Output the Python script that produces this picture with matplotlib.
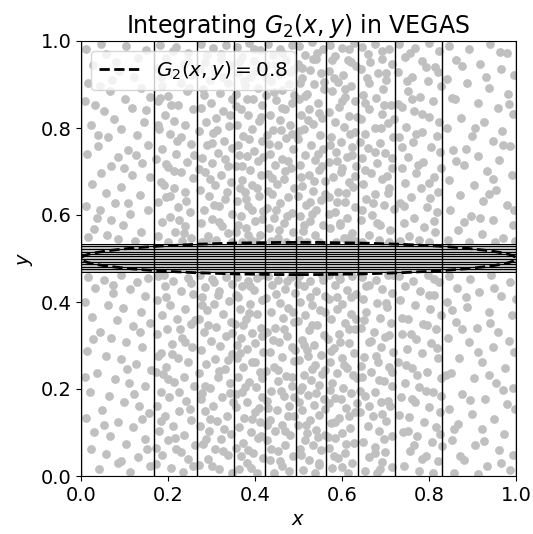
import matplotlib
matplotlib.use("Agg")
import matplotlib.pyplot as plt
from matplotlib.patches import Ellipse
from matplotlib.lines import Line2D

# ---------------- data ----------------
# VEGAS grid edges
x_grid = [0.0, 0.168, 0.266, 0.351, 0.422, 0.494, 0.564, 0.636, 0.722, 0.830, 1.0]
y_grid = [0.0, 0.469, 0.475, 0.481, 0.487, 0.493, 0.499, 0.505, 0.511,
          0.516, 0.522, 0.528, 0.534, 1.0]
# densely sampled band around y = 0.5
band_lo, band_hi = 0.467, 0.534
# contour G2(x, y) = 0.8 (ellipse: centre, full width, full height)
contour_center = (0.5, 0.5)
contour_width = 1.0
contour_height = 0.074
contour_label = r"$G_2(x,y) = 0.8$"

# sample points outside the band, (x, y) in thousandths
samples_upper = [
    (12,982),(47,993),(58,971),(103,988),(131,962),(149,979),(27,944),(81,951),(88,932),(122,917),
    (15,903),(44,896),(66,884),(138,893),(159,871),(101,866),(33,852),(52,839),(118,846),(76,821),
    (145,814),(22,806),(93,797),(61,779),(129,784),(155,762),(38,758),(14,741),(84,733),(108,749),
    (69,712),(140,719),(47,697),(117,691),(158,688),(25,672),(93,664),(57,651),(135,646),(78,628),
    (12,621),(43,611),(112,603),(153,612),(68,589),(96,577),(31,568),(139,561),(17,549),(84,545),
    (59,553),(124,541),(107,628),(40,783),(150,842),(9,862),(126,738),(72,911),(98,708),(37,592),
    (181,991),(219,986),(247,973),(196,962),(236,948),(174,939),(208,927),(255,921),(229,904),(187,897),
    (243,884),(201,873),(176,861),(224,852),(258,843),(193,831),(213,817),(240,808),(179,797),(205,786),
    (231,779),(252,763),(187,752),(218,741),(173,729),(244,722),(201,711),(229,698),(257,684),(183,676),
    (214,662),(238,653),(196,641),(176,629),(223,618),(251,607),(205,596),(186,583),(239,574),(217,561),
    (178,552),(254,547),(199,538),(232,541),(212,977),(185,918),(249,891),(221,769),(195,717),(241,632),
    (177,806),(208,853),(260,737),(226,589),(190,669),(247,954),(213,702),(182,869),(236,559),(204,644),
    (276,994),(303,983),(334,990),(289,967),(321,958),(344,944),(273,936),(307,929),(296,911),(338,903),
    (281,889),(319,881),(346,866),(299,857),(275,846),(326,838),(311,822),(287,813),(341,804),(272,793),
    (304,788),(329,771),(290,762),(347,754),(316,743),(279,731),(301,719),(337,712),(285,698),(322,691),
    (344,677),(308,668),(274,657),(295,643),(331,636),(317,621),(283,612),(346,603),(302,591),(276,582),
    (324,574),(339,559),(291,551),(310,542),(279,537),(347,538),(327,917),(284,952),(312,796),(332,728),
    (271,706),(318,585),(296,682),(343,829),(282,875),(335,652),(300,765),(290,540),(322,970),(306,623),
    (358,987),(386,996),(412,979),(371,963),(398,954),(416,939),(362,926),(389,917),(377,899),(408,891),
    (356,879),(395,866),(417,853),(368,844),(384,829),(410,817),(359,806),(392,798),(373,782),(415,771),
    (361,761),(397,748),(381,736),(406,724),(357,713),(388,703),(414,692),(369,681),(394,669),(376,653),
    (409,644),(359,632),(385,621),(418,609),(367,598),(399,586),(379,571),(356,561),(411,554),(390,543),
    (371,537),(403,538),(363,951),(401,932),(382,867),(418,733),(364,737),(392,611),(374,908),(405,662),
    (360,578),(387,774),(413,826),(371,712),(398,982),(380,636),(357,850),(416,590),(383,553),(365,663),
    (431,993),(457,981),(484,990),(442,967),(471,956),(428,944),(489,935),(455,924),(437,909),(478,901),
    (463,887),(426,876),(449,864),(486,857),(468,843),(434,831),(458,819),(481,808),(441,796),(427,784),
    (472,776),(453,761),(488,752),(435,741),(462,729),(446,716),(483,707),(429,694),(467,683),(451,671),
    (490,662),(438,649),(476,641),(457,627),(427,616),(484,604),(444,593),(466,581),(432,569),(487,561),
    (453,548),(472,539),(437,540),(461,973),(445,945),(426,917),(490,876),(459,795),(477,724),(433,764),
    (448,612),(474,597),(429,655),(486,786),(463,846),(439,685),(455,566),(480,928),(443,882),(469,702),
    (502,989),(531,997),(556,982),(514,968),(541,959),(498,947),(527,933),(552,926),(508,914),(536,902),
    (559,889),(519,878),(500,866),(545,857),(525,843),(505,831),(553,822),(533,809),(513,798),(549,784),
    (499,774),(528,761),(556,751),(516,739),(538,727),(503,714),(547,703),(524,692),(560,679),(509,667),
    (534,656),(498,643),(551,634),(518,622),(540,611),(503,598),(527,586),(557,577),(511,564),(537,553),
    (500,542),(548,538),(520,539),(543,973),(509,939),(558,905),(521,819),(544,741),(505,688),(530,603),
    (561,648),(515,873),(533,958),(500,792),(554,713),(526,630),(512,578),(547,835),(536,679),(504,903),
    (573,991),(599,984),(627,995),(585,966),(614,957),(632,943),(570,931),(603,922),(590,906),(621,897),
    (577,884),(608,872),(631,861),(593,849),(569,837),(617,828),(584,813),(604,802),(629,791),(575,779),
    (597,768),(622,756),(586,744),(611,733),(570,721),(633,712),(598,699),(579,688),(615,676),(626,664),
    (591,653),(571,641),(606,631),(629,618),(583,606),(612,593),(595,581),(573,569),(624,558),(604,546),
    (586,538),(631,540),(577,956),(616,981),(600,862),(624,738),(588,725),(571,602),(609,650),(634,825),
    (581,916),(619,787),(596,577),(630,689),(573,760),(606,890),(588,629),(621,952),(599,707),(614,548),
    (647,987),(676,994),(708,981),(659,969),(691,958),(716,946),(644,935),(682,926),(702,911),(663,903),
    (695,889),(648,876),(679,868),(713,854),(662,843),(692,833),(643,821),(706,812),(675,799),(652,787),
    (718,779),(687,766),(660,754),(699,742),(645,731),(681,719),(714,707),(666,696),(693,683),(649,672),
    (709,661),(677,648),(656,637),(697,624),(719,613),(668,601),(643,589),(688,578),(711,566),(661,553),
    (684,542),(646,538),(707,539),(664,952),(700,927),(653,858),(719,820),(689,801),(642,768),(703,689),
    (671,628),(652,704),(696,852),(714,731),(680,581),(658,916),(692,978),(647,611),(705,651),(676,745),
    (732,992),(768,985),(801,996),(824,977),(745,963),(784,954),(813,941),(729,929),(762,918),(797,909),
    (827,896),(751,884),(779,871),(810,862),(737,849),(766,839),(801,826),(822,813),(746,802),(784,791),
    (730,779),(763,768),(805,756),(826,744),(752,733),(787,722),(737,709),(769,697),(812,688),(744,674),
    (781,663),(821,652),(759,641),(733,628),(796,619),(818,607),(766,594),(742,582),(789,573),(814,561),
    (754,551),(733,541),(800,539),(776,543),(821,929),(749,908),(785,832),(729,856),(818,781),(774,716),
    (799,673),(738,757),(811,587),(760,866),(792,941),(743,621),(827,709),(771,786),(756,973),(803,640),
    (846,989),(893,981),(941,994),(979,972),(862,956),(917,948),(966,935),(995,922),(842,913),(888,904),
    (939,892),(981,879),(859,867),(912,858),(958,846),(993,833),(874,824),(927,814),(842,801),(968,792),
    (899,782),(947,771),(986,758),(856,749),(913,736),(962,727),(881,714),(934,702),(991,693),(845,681),
    (904,669),(953,658),(872,646),(924,633),(979,624),(849,611),(897,598),(947,588),(992,577),(866,566),
    (921,556),(971,546),(843,543),(892,538),(952,539),(998,541),(931,917),(877,943),(985,856),(905,801),
    (861,725),(948,682),(996,612),(881,583),(939,649),(970,761),(854,869),(918,594),(964,975),(884,752),
]

samples_lower = [
    (16,458),(52,451),(91,462),(128,447),(154,456),(33,433),(74,421),(112,429),(147,414),(9,401),
    (61,393),(96,387),(138,376),(25,366),(82,359),(119,344),(158,351),(44,331),(69,318),(104,309),
    (141,297),(13,287),(57,276),(93,268),(126,257),(161,243),(37,236),(78,224),(111,213),(148,207),
    (21,194),(64,183),(99,171),(133,162),(48,151),(157,144),(11,133),(86,124),(119,113),(31,102),
    (67,91),(146,86),(103,74),(24,62),(58,51),(132,44),(84,31),(159,23),(41,17),(113,9),
    (73,438),(135,331),(9,228),(121,189),(53,118),(93,35),(140,131),(28,314),(106,246),(152,61),
    (178,459),(211,448),(247,455),(193,437),(229,426),(258,418),(175,404),(204,393),(239,385),(186,371),
    (221,362),(252,349),(197,338),(174,326),(233,317),(210,304),(256,296),(184,283),(222,271),(247,262),
    (196,251),(172,239),(236,228),(213,217),(259,206),(183,194),(203,182),(242,173),(175,161),(226,149),
    (192,138),(254,129),(211,116),(180,104),(237,95),(199,83),(261,71),(219,62),(186,48),(245,39),
    (173,27),(207,18),(234,9),(257,22),(191,463),(228,337),(177,276),(250,153),(201,222),(216,88),
    (262,358),(184,126),(240,307),(196,411),(225,192),(172,64),(253,443),(209,281),(231,56),(188,235),
    (274,461),(301,452),(333,458),(347,441),(286,434),(318,425),(279,411),(341,403),(306,396),(290,381),
    (327,372),(271,362),(345,354),(311,343),(283,331),(334,322),(299,311),(320,298),(275,289),(346,281),
    (307,268),(288,257),(331,246),(272,236),(315,227),(342,214),(297,203),(278,191),(325,182),(349,171),
    (303,161),(284,149),(336,138),(312,127),(273,116),(295,104),(344,97),(322,84),(281,73),(309,61),
    (337,49),(291,38),(271,26),(318,15),(348,8),(302,23),(329,109),(276,176),(339,266),(293,346),
    (315,417),(284,208),(348,329),(306,446),(326,58),(279,392),(343,191),(297,131),(318,241),(288,84),
    (359,457),(384,449),(413,461),(371,437),(398,428),(357,416),(417,404),(389,396),(366,383),(405,372),
    (379,361),(355,349),(413,341),(392,329),(368,318),(401,306),(381,293),(418,284),(358,272),(394,263),
    (373,251),(411,239),(361,227),(387,216),(403,204),(369,193),(417,181),(382,169),(356,158),(399,146),
    (375,134),(412,123),(363,112),(391,101),(406,88),(372,77),(357,64),(396,53),(418,41),(381,29),
    (363,16),(404,8),(389,437),(417,322),(359,302),(377,204),(409,156),(368,46),(386,374),(401,263),
    (356,189),(414,93),(372,347),(393,132),(360,411),(416,226),(383,59),(405,455),(365,282),(390,18),
    (429,460),(454,451),(482,458),(440,439),(469,431),(491,421),(426,409),(458,398),(477,386),(437,377),
    (464,364),(489,353),(447,341),(428,331),(473,322),(456,309),(484,297),(434,286),(462,274),(489,264),
    (444,251),(425,241),(471,229),(453,218),(486,206),(437,196),(466,184),(428,173),(478,161),(451,151),
    (490,139),(435,128),(463,117),(446,104),(481,94),(427,82),(469,71),(452,58),(488,47),(434,36),
    (461,24),(479,12),(443,7),(426,463),(473,449),(491,289),(452,243),(430,156),(470,103),(488,376),
    (441,313),(459,196),(485,228),(436,62),(466,338),(449,419),(428,118),(477,139),(458,34),(490,182),
    (500,459),(527,449),(554,461),(512,437),(540,426),(561,414),(503,401),(531,392),(549,381),(516,369),
    (498,357),(543,348),(525,336),(558,324),(507,313),(535,301),(519,289),(551,278),(500,266),(538,256),
    (561,243),(513,233),(529,221),(547,209),(503,197),(522,186),(558,176),(536,163),(509,152),(548,141),
    (526,129),(499,117),(540,106),(560,94),(514,83),(533,71),(552,59),(505,48),(523,36),(546,25),
    (510,13),(537,6),(561,376),(522,275),(507,205),(545,89),(499,441),(530,348),(555,234),(518,117),
    (541,190),(503,62),(527,412),(560,155),(513,302),(548,31),(532,247),(500,169),(556,450),(520,98),
    (571,461),(596,452),(624,459),(583,439),(611,428),(632,419),(569,407),(601,395),(588,384),(620,373),
    (574,362),(607,351),(630,339),(592,327),(568,316),(615,306),(581,294),(627,283),(599,271),(572,261),
    (612,249),(589,237),(634,226),(577,214),(603,203),(621,191),(585,179),(570,168),(609,157),(631,146),
    (594,134),(575,122),(618,111),(600,99),(583,88),(627,76),(569,64),(606,52),(590,41),(622,30),
    (578,18),(613,8),(633,361),(596,309),(572,197),(617,138),(588,412),(604,256),(568,89),(626,233),
    (581,45),(598,178),(621,412),(575,288),(610,74),(634,167),(592,458),(585,123),(615,338),(601,21),
    (645,458),(678,451),(706,462),(662,440),(693,431),(716,421),(648,408),(681,397),(704,388),(656,376),
    (688,364),(712,352),(643,341),(673,332),(699,319),(661,308),(690,297),(718,286),(651,274),(683,263),
    (708,251),(667,239),(645,228),(697,218),(714,206),(676,194),(654,183),(689,171),(711,160),(642,148),
    (671,137),(702,126),(659,114),(686,103),(716,91),(648,79),(677,67),(699,56),(663,44),(691,33),
    (715,21),(652,11),(681,6),(702,397),(667,311),(644,254),(693,143),(716,239),(675,52),(656,437),
    (686,221),(709,325),(642,196),(697,85),(663,162),(718,462),(679,276),(651,359),(705,172),(688,15),
    (731,459),(763,449),(797,461),(822,445),(744,436),(779,426),(811,417),(734,404),(768,393),(802,384),
    (827,371),(752,362),(786,349),(817,338),(738,327),(771,316),(805,305),(749,293),(783,282),(820,271),
    (729,261),(761,249),(796,238),(828,226),(744,214),(777,204),(810,192),(736,181),(767,169),(801,158),
    (825,147),(753,136),(788,124),(815,113),(740,102),(772,91),(806,79),(829,68),(757,57),(792,46),
    (820,34),(742,22),(776,11),(809,6),(758,327),(793,196),(730,141),(818,294),(766,72),(801,417),
    (748,255),(784,38),(827,185),(737,363),(773,233),(812,452),(752,104),(796,347),(762,177),(825,96),
    (847,459),(895,452),(943,461),(987,446),(864,433),(914,424),(966,413),(841,399),(888,388),(937,377),
    (990,369),(861,354),(911,341),(958,332),(843,318),(893,307),(946,296),(995,286),(870,272),(922,261),
    (974,249),(851,237),(903,226),(953,214),(992,202),(876,189),(928,178),(980,166),(847,154),(898,142),
    (950,131),(867,119),(921,107),(973,96),(854,83),(906,71),(960,59),(994,48),(880,36),(934,24),
    (986,13),(858,7),(912,5),(965,31),(839,232),(941,352),(884,412),(997,155),(913,284),(858,107),
    (969,198),(927,81),(875,338),(949,433),(983,311),(894,175),(852,381),(937,232),(999,406),(871,45),
]

tick_values = [0.0, 0.2, 0.4, 0.6, 0.8, 1.0]
tick_labels = ["0.0", "0.2", "0.4", "0.6", "0.8", "1.0"]
title = r"Integrating $G_2(x, y)$ in VEGAS"

# ---------------- plotting ----------------
samples = samples_upper + samples_lower
sx = [p[0] / 1000 for p in samples]
sy = [p[1] / 1000 for p in samples]

fig = plt.figure(figsize=(5.33, 5.34), dpi=100)
ax = fig.add_axes([81 / 533, 58 / 534, 435 / 533, 435 / 534])

ax.scatter(sx, sy, s=40, color="silver", linewidths=0, zorder=1)
ax.axhspan(band_lo, band_hi, color="silver", lw=0, zorder=1)

for xv in x_grid:
    ax.axvline(xv, color="black", lw=1.0, zorder=2)
for yv in y_grid:
    ax.axhline(yv, color="black", lw=0.75, zorder=2)

ell = Ellipse(contour_center, contour_width, contour_height, fill=False,
              edgecolor="black", linestyle="--", lw=2, zorder=3)
ax.add_patch(ell)

handle = Line2D([], [], color="black", linestyle="--", lw=2)
ax.legend([handle], [contour_label], loc="upper left", fontsize=14.5)

ax.set_xlim(0, 1)
ax.set_ylim(0, 1)
ax.set_xticks(tick_values)
ax.set_xticklabels(tick_labels)
ax.set_yticks(tick_values)
ax.set_yticklabels(tick_labels)
ax.tick_params(labelsize=14)
ax.set_xlabel(r"$x$", fontsize=14)
ax.set_ylabel(r"$y$", fontsize=14)
ax.set_title(title, fontsize=17)

fig.savefig("out.png", dpi=100)
